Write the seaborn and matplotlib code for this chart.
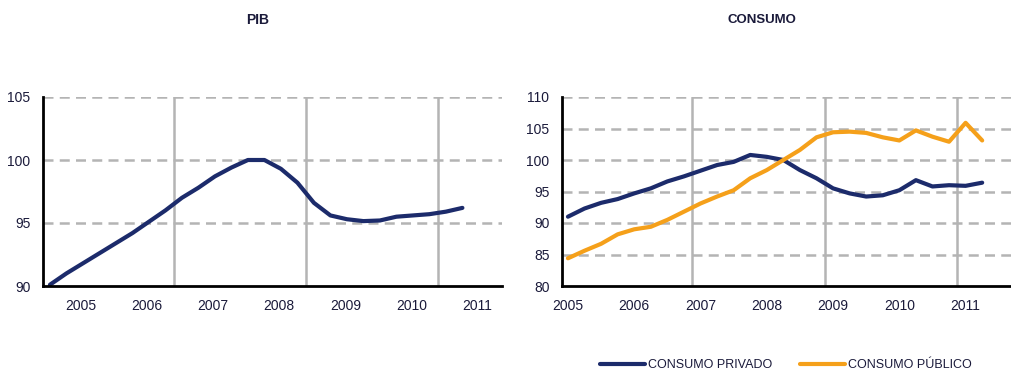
import numpy as np
import pandas as pd
import matplotlib
matplotlib.use("Agg")
import matplotlib.pyplot as plt
import seaborn as sns
from matplotlib.lines import Line2D

# ---- data (quarterly, 2005Q1 .. 2011Q2) ----
years = ["2005", "2006", "2007", "2008", "2009", "2010", "2011"]
pib = [90.1, 91.0, 91.8, 92.6, 93.4, 94.2, 95.1, 96.0, 97.0, 97.8, 98.7, 99.4, 100.0,
       100.0, 99.3, 98.2, 96.6, 95.6, 95.3, 95.15, 95.2, 95.5, 95.6, 95.7, 95.9, 96.2]
consumo_privado = [91.0, 92.3, 93.2, 93.8, 94.7, 95.5, 96.6, 97.4, 98.3, 99.2, 99.7, 100.8, 100.5,
                   100.0, 98.4, 97.1, 95.5, 94.7, 94.2, 94.4, 95.2, 96.8, 95.8, 96.0, 95.9, 96.4]
consumo_publico = [84.4, 85.6, 86.7, 88.2, 89.0, 89.4, 90.5, 91.8, 93.1, 94.2, 95.2, 97.1, 98.4,
                   100.0, 101.6, 103.6, 104.4, 104.5, 104.3, 103.6, 103.1, 104.7, 103.7, 102.9, 105.9, 103.1]

NAVY = "#1c2b6b"
ORANGE = "#f5a01a"
GRID = "#b4b4b4"
TXT = "#1a1a3a"

sns.set_theme(style="white")
plt.rcParams["font.family"] = ["Liberation Sans", "DejaVu Sans"]

q = np.arange(len(pib))
df_pib = pd.DataFrame({"q": q, "v": pib})
df_c = pd.DataFrame({
    "q": np.concatenate([q, q]),
    "v": consumo_privado + consumo_publico,
    "serie": ["CONSUMO PRIVADO"] * len(q) + ["CONSUMO PÚBLICO"] * len(q),
})

fig = plt.figure(figsize=(10.12, 3.71), dpi=100)
W, H = 1012, 371
ax1 = fig.add_axes([43 / W, (H - 286) / H, (502 - 43) / W, (286 - 97) / H])
ax2 = fig.add_axes([562 / W, (H - 286) / H, (1012 - 562) / W, (286 - 97) / H])

def style(ax, yticks, xticks):
    for s in ["top", "right"]:
        ax.spines[s].set_visible(False)
    for s in ["left", "bottom"]:
        ax.spines[s].set_color("black")
        ax.spines[s].set_linewidth(2.0)
        ax.spines[s].set_zorder(5)
    ax.set_yticks(yticks)
    ax.set_yticklabels([str(v) for v in yticks])
    for y in yticks[1:]:
        ax.axhline(y, color=GRID, lw=1.8, ls=(0, (4, 2.5)), zorder=1)
    for xg in [7.5, 15.5, 23.5]:
        ax.axvline(xg, color=GRID, lw=1.8, zorder=1)
    ax.set_xticks(xticks)
    ax.set_xticklabels(years)
    ax.tick_params(axis="x", length=0, pad=9, labelsize=10, labelcolor=TXT)
    ax.tick_params(axis="y", length=3, width=1.2, color="black", pad=6, labelsize=10, labelcolor=TXT)
    ax.set_xlabel("")
    ax.set_ylabel("")

sns.lineplot(data=df_pib, x="q", y="v", ax=ax1, color=NAVY, lw=3.0, zorder=3)
ax1.set_xlim(-0.42, 27.4)
ax1.set_ylim(90, 105)
style(ax1, [90, 95, 100, 105], [1.9 + 4 * k for k in range(7)])

sns.lineplot(data=df_c, x="q", y="v", hue="serie", ax=ax2,
             palette={"CONSUMO PRIVADO": NAVY, "CONSUMO PÚBLICO": ORANGE},
             lw=3.0, zorder=3, legend=False)
ax2.set_xlim(-0.36, 26.8)
ax2.set_ylim(80, 110)
style(ax2, [80, 85, 90, 95, 100, 105, 110], [4 * k for k in range(7)])

fig.text(258 / W, 1 - 20 / H, "PIB", ha="center", va="center", fontsize=10,
         fontweight="bold", color=TXT)
fig.text(762 / W, 1 - 20 / H, "CONSUMO", ha="center", va="center", fontsize=9.5,
         fontweight="bold", color=TXT)

handles = [Line2D([], [], color=NAVY, lw=3.0), Line2D([], [], color=ORANGE, lw=3.0)]
leg = fig.legend(handles, ["CONSUMO PRIVADO", "CONSUMO PÚBLICO"], ncol=2,
                 loc="center", bbox_to_anchor=(786 / W, 1 - 365 / H), frameon=False,
                 fontsize=9, handlelength=3.6, handletextpad=0.25, columnspacing=2.2)
for t in leg.get_texts():
    t.set_color(TXT)

fig.savefig("out.png", dpi=100)
